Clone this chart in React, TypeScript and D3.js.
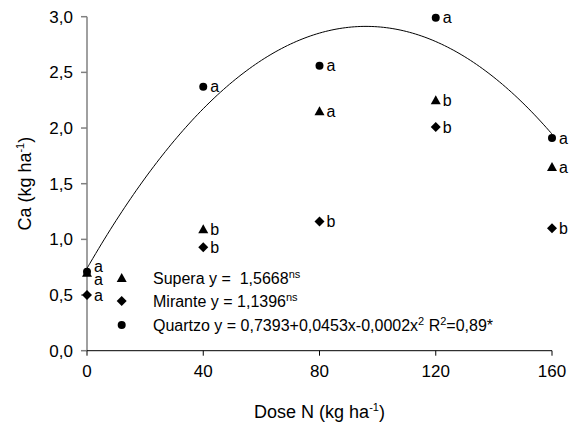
import React from "react";
import * as d3 from "d3";

const doses = [0, 40, 80, 120, 160];
const superaValues = [0.70, 1.09, 2.15, 2.25, 1.65];
const miranteValues = [0.50, 0.93, 1.16, 2.01, 1.10];
const quartzoValues = [0.71, 2.37, 2.56, 2.99, 1.91];
const superaLetters = ["a", "b", "a", "b", "a"];
const miranteLetters = ["a", "b", "b", "b", "b"];
const quartzoLetters = ["a", "a", "a", "a", "a"];
const quartzoFit = [0.7393, 0.0453, -0.000236];
const xTicks = [0, 40, 80, 120, 160];
const yTicks = [0, 0.5, 1, 1.5, 2, 2.5, 3];

const W = 586;
const H = 426;
const FONT = "'Liberation Sans', Arial, Helvetica, sans-serif";

const x = d3.scaleLinear().domain([0, 160]).range([87, 552]);
const y = d3.scaleLinear().domain([0, 3]).range([350.7, 16.7]);

const fmt = (v: number) => v.toFixed(1).replace(".", ",");

function Marker({ type, cx, cy }: { type: string; cx: number; cy: number }) {
  if (type === "circle") return <circle cx={cx} cy={cy} r={4} fill="#000" />;
  if (type === "triangle") {
    const s = 5;
    return (
      <path
        d={`M${cx},${cy - s}L${cx + s},${cy + s * 0.8}L${cx - s},${cy + s * 0.8}Z`}
        fill="#000"
      />
    );
  }
  const s = 5;
  return (
    <path d={`M${cx},${cy - s}L${cx + s},${cy}L${cx},${cy + s}L${cx - s},${cy}Z`} fill="#000" />
  );
}

export default function App() {
  const curvePts: [number, number][] = [];
  for (let d = 0; d <= 160; d += 1) {
    curvePts.push([d, quartzoFit[0] + quartzoFit[1] * d + quartzoFit[2] * d * d]);
  }
  const line = d3
    .line<[number, number]>()
    .x((p) => x(p[0]))
    .y((p) => y(p[1]))
    .curve(d3.curveBasis);

  const series = [
    { type: "circle", values: quartzoValues, letters: quartzoLetters, nudge: [-5, 0, 0, 0, 0] },
    { type: "triangle", values: superaValues, letters: superaLetters, nudge: [7, 0, 0, 0, 0] },
    { type: "diamond", values: miranteValues, letters: miranteLetters, nudge: [0, 0, 0, 0, 0] },
  ];

  const legend = [
    { type: "triangle", cy: 278, label: "Supera y =  1,5668", sup: "ns" },
    { type: "diamond", cy: 301, label: "Mirante y = 1,1396", sup: "ns" },
    { type: "circle", cy: 325, label: "quartzo" },
  ];

  return (
    <svg
      width={W}
      height={H}
      style={{ position: "absolute", left: 0, top: 0, background: "#fff" }}
      fontFamily={FONT}
    >
      <rect width={W} height={H} fill="#fff" />
      {/* y axis */}
      <line x1={x(0)} x2={x(0)} y1={y(3)} y2={y(0)} stroke="#808080" strokeWidth={1.5} />
      {yTicks.map((t) => (
        <g key={"yt" + t}>
          <line x1={x(0) - 6} x2={x(0)} y1={y(t)} y2={y(t)} stroke="#808080" strokeWidth={1.5} />
          <text x={x(0) - 14} y={y(t)} dy="0.35em" textAnchor="end" fontSize={17} fill="#000">
            {fmt(t)}
          </text>
        </g>
      ))}
      {/* x axis */}
      <line x1={x(0)} x2={x(160)} y1={y(0)} y2={y(0)} stroke="#000" strokeWidth={1} />
      {xTicks.map((t) => (
        <g key={"xt" + t}>
          <line x1={x(t)} x2={x(t)} y1={y(0)} y2={y(0) + 5} stroke="#000" strokeWidth={1} />
          <text x={x(t)} y={377} textAnchor="middle" fontSize={17} fill="#000">
            {t}
          </text>
        </g>
      ))}
      {/* axis titles */}
      <text x={x(80)} y={418} textAnchor="middle" fontSize={18} fill="#000">
        Dose N (kg ha
        <tspan fontSize={11} dy={-7}>-1</tspan>
        <tspan dy={7}>)</tspan>
      </text>
      <text
        transform={`translate(31,${(y(0) + y(3)) / 2}) rotate(-90)`}
        textAnchor="middle"
        fontSize={18}
        fill="#000"
      >
        Ca (kg ha
        <tspan fontSize={11} dy={-7}>-1</tspan>
        <tspan dy={7}>)</tspan>
      </text>
      {/* fitted curve */}
      <path d={line(curvePts) || ""} fill="none" stroke="#000" strokeWidth={1} />
      {/* points */}
      {series.map((s) =>
        s.values.map((v, i) => (
          <g key={s.type + i}>
            <Marker type={s.type} cx={x(doses[i])} cy={y(v)} />
            <text
              x={x(doses[i]) + 7}
              y={y(v) + s.nudge[i]}
              dy="0.35em"
              fontSize={16}
              fill="#000"
            >
              {s.letters[i]}
            </text>
          </g>
        ))
      )}
      {/* legend */}
      {legend.map((l) => (
        <g key={l.type}>
          <Marker type={l.type} cx={121.7} cy={l.cy} />
          {l.type === "circle" ? (
            <text x={153} y={l.cy} dy="0.35em" fontSize={16} fill="#000" style={{ whiteSpace: "pre" }}>
              Quartzo y = 0,7393+0,0453x-0,0002x
              <tspan fontSize={11} dy={-6}>2</tspan>
              <tspan dy={6}> R</tspan>
              <tspan fontSize={11} dy={-6}>2</tspan>
              <tspan dy={6}>=0,89*</tspan>
            </text>
          ) : (
            <text x={153} y={l.cy} dy="0.35em" fontSize={16} fill="#000" style={{ whiteSpace: "pre" }}>
              {l.label}
              <tspan fontSize={11} dy={-6}>{l.sup}</tspan>
            </text>
          )}
        </g>
      ))}
    </svg>
  );
}
